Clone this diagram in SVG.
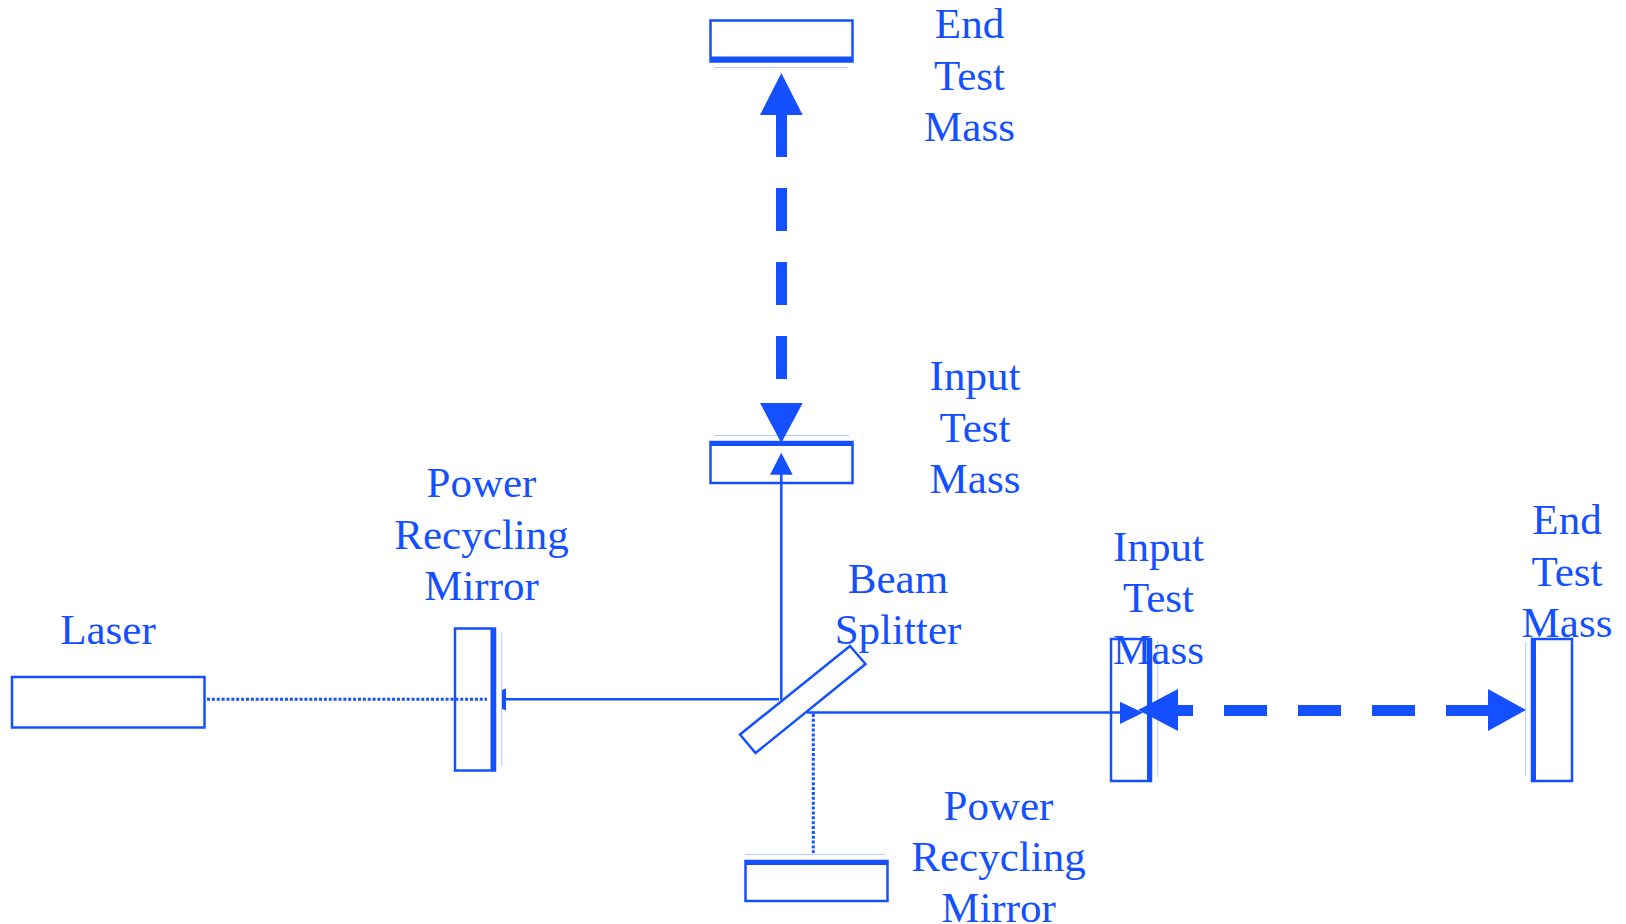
<svg xmlns="http://www.w3.org/2000/svg" width="1626" height="924" viewBox="0 0 1626 924">
<style>
.o{fill:none;stroke:#1450ff;stroke-width:2.5}
.f{fill:#1450ff;stroke:none}
.l{stroke:#1450ff;stroke-width:2.5;fill:none}
.d{stroke:#1450ff;stroke-width:3;stroke-dasharray:3 1.87;fill:none}
.h{stroke:#1450ff;stroke-width:1;opacity:.3;fill:none}
text{font-family:"Liberation Serif","Times New Roman",serif;font-size:43px;fill:#1450ff;text-anchor:middle}
</style>
<rect width="1626" height="924" fill="#fff"/>
<g id="laser"><rect class="o" x="12" y="677" width="192.500" height="50.500"/><text x="108" y="644">Laser</text></g>
<g id="prm-left"><rect class="o" x="455" y="628.500" width="40" height="142"/><rect class="f" x="490.500" y="628" width="5.500" height="143"/><path class="h" d="M501.700 632V766"/><text x="481.500" y="497">Power</text><text x="481.500" y="548.500">Recycling</text><text x="481.500" y="600">Mirror</text></g>
<g id="itm-top"><rect class="o" x="710.500" y="442" width="142" height="41"/><rect class="f" x="710" y="441" width="143" height="5"/><path class="h" d="M714 435.500H849"/><text x="975" y="390">Input</text><text x="975" y="442">Test</text><text x="975" y="493">Mass</text></g>
<g id="etm-top"><rect class="o" x="710.500" y="20.500" width="142" height="41"/><rect class="f" x="710" y="56.500" width="143" height="5.500"/><path class="h" d="M714 67.500H848"/><text x="969.500" y="38">End</text><text x="969.500" y="90">Test</text><text x="969.500" y="141">Mass</text></g>
<g id="beam-splitter"><path class="o" d="M850 646 865.500 664 755.500 753 740 734.500Z"/><text x="898" y="593">Beam</text><text x="898" y="644">Splitter</text></g>
<g id="prm-bottom"><rect class="o" x="745.500" y="861" width="142" height="40"/><rect class="f" x="745" y="860" width="143" height="5"/><path class="h" d="M745 854.500H885"/><text x="998.500" y="820">Power</text><text x="998.500" y="871">Recycling</text><text x="998.500" y="922">Mirror</text></g>
<g id="itm-right"><rect class="o" x="1111" y="639" width="40" height="142"/><rect class="f" x="1147" y="638" width="5" height="144"/><path class="h" d="M1157.700 640V777"/><text x="1158.500" y="561">Input</text><text x="1158.500" y="612">Test</text><text x="1158.500" y="664">Mass</text></g>
<g id="etm-right"><rect class="o" x="1532" y="639" width="40" height="142"/><rect class="f" x="1531" y="638" width="5" height="144"/><path class="h" d="M1525.700 642V776"/><text x="1567" y="534">End</text><text x="1567" y="586">Test</text><text x="1567" y="637">Mass</text></g>
<g id="connectors">
<path class="d" d="M207 699.300H487"/>
<path class="l" d="M505 699.300H779"/>
<path class="f" d="M502 690 506 688.500V710.500L502 709Z"/>
<path class="l" d="M781.300 474V700"/>
<path class="f" d="M781.300 452.700 792.700 474.700H770Z"/>
<path class="l" d="M807 712.500H1122"/>
<path class="d" d="M813.300 714V853"/>
<path class="f" d="M1143 712.800 1120 701.700V724Z"/>
<path class="f" d="M1138 710 1178 689V731Z"/>
<path class="f" d="M1526 710 1488 689V731Z"/>
<path class="f" d="M1178 705h15v11h-15zM1224 705h43v11h-43zM1298 705h43v11h-43zM1372 705h43v11h-43zM1446 705h42v11h-42z"/>
<path class="f" d="M781.300 73 802.700 115H760Z"/>
<path class="f" d="M781.300 443 760 403H802.700Z"/>
<path class="f" d="M776 115h11v42h-11zM776 188h11v43h-11zM776 262h11v43h-11zM776 336h11v43h-11z"/>
</g>
</svg>
